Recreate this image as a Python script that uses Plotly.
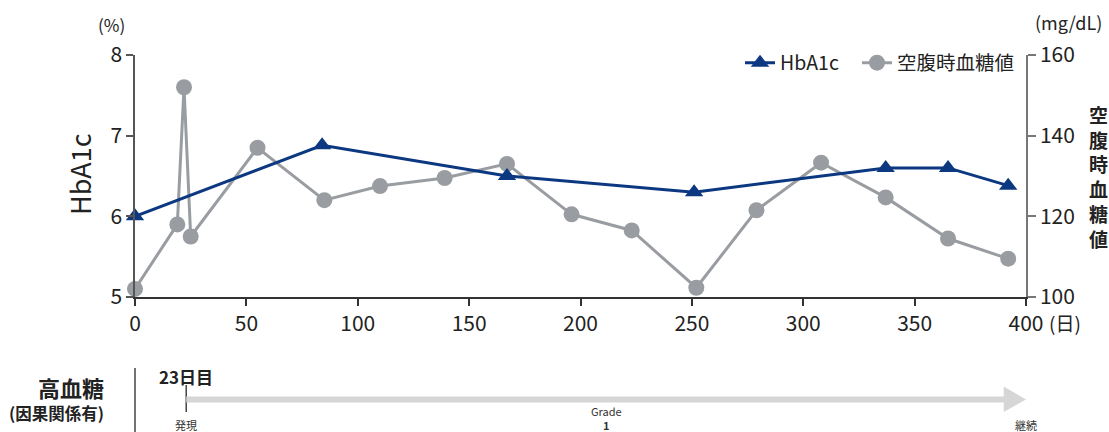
import plotly.graph_objects as go

# ---------------- data ----------------
hba1c_days = [0, 84, 167, 251, 337, 365, 392]
hba1c_vals = [6.0, 6.88, 6.5, 6.3, 6.6, 6.6, 6.38]

glu_days = [0, 19, 22, 25, 55, 85, 110, 139, 167, 196, 223, 252, 279, 308, 337, 365, 392]
glu_vals = [102, 118, 152, 115, 137, 124, 127.5, 129.5, 133, 120.5, 116.5, 102.3, 121.5, 133.3, 124.7, 114.5, 109.5]

x_ticks = [0, 50, 100, 150, 200, 250, 300, 350, 400]
left_ticks = [5, 6, 7, 8]
right_ticks = [100, 120, 140, 160]

onset_day = 23
event_end_day = 400
event_name = "高血糖"
event_note = "(因果関係有)"
grade_label = "Grade<br><b>1</b>"

# ---------------- styles ----------------
NAVY = "#0b3880"
GRAY = "#999da2"
FONT = "Noto Sans CJK JP"
W, H = 1109, 432
L, R, T, B = 135, 83, 55, 135
PW, PH = W - L - R, H - T - B


def px(xp):
    return (xp - L) / PW


def py(yp):
    return (H - B - yp) / PH


fig = go.Figure()
fig.add_trace(go.Scatter(
    x=hba1c_days, y=hba1c_vals, name="HbA1c\u00a0\u00a0\u00a0", yaxis="y2",
    mode="lines+markers", cliponaxis=False,
    line=dict(color=NAVY, width=3),
    marker=dict(symbol="triangle-up", size=16, color=NAVY),
))
fig.add_trace(go.Scatter(
    x=glu_days, y=glu_vals, name="空腹時血糖値", yaxis="y",
    mode="lines+markers", cliponaxis=False,
    line=dict(color=GRAY, width=3),
    marker=dict(symbol="circle", size=16, color=GRAY),
))

tickfont = dict(size=21, family=FONT, color="#222")
fig.update_layout(
    width=W, height=H,
    margin=dict(l=L, r=R, t=T, b=B, autoexpand=False),
    plot_bgcolor="white", paper_bgcolor="white",
    font=dict(family=FONT, color="#222", size=20),
    showlegend=True,
    legend=dict(orientation="h", x=px(1019), xanchor="right", y=py(63), yanchor="middle",
                font=dict(size=19.5, family=FONT, color="#222"), bgcolor="rgba(0,0,0,0)",
                itemwidth=30, traceorder="normal"),
    xaxis=dict(range=[0, 400], tickvals=x_ticks, showgrid=False, zeroline=False,
               showline=True, linecolor="#333", linewidth=1.5,
               ticks="outside", ticklen=7, tickcolor="#333", tickwidth=1.5, tickfont=tickfont),
    yaxis=dict(range=[100, 160], tickvals=right_ticks, side="right", showgrid=False, zeroline=False,
               showline=True, linecolor="#777", linewidth=1.5,
               ticks="outside", ticklen=8, tickcolor="#777", tickwidth=1.5, tickfont=tickfont),
    yaxis2=dict(range=[5, 8], tickvals=left_ticks, side="left", overlaying="y", showgrid=False,
                zeroline=False, showline=True, linecolor="#555", linewidth=1.5,
                ticks="outside", ticklen=7, tickcolor="#555", tickwidth=1.5, tickfont=tickfont),
)


def note(text, x, y, size, xref="paper", xanchor="center", color="#222", angle=0):
    return dict(text=text, x=x, y=y, xref=xref, yref="paper", xanchor=xanchor, yanchor="middle",
                showarrow=False, textangle=angle, font=dict(size=size, family=FONT, color=color))


ann = []
# unit labels
ann.append(note("(%)", px(111), py(24), 17))
ann.append(note("(mg/dL)", px(1068), py(22), 18))
ann.append(note("(日)", px(1047), py(322), 19, xanchor="left"))
# axis titles
ann.append(note("HbA1c", px(79), py(174), 27, angle=-90))
ann.append(note("<b>" + "<br>".join("空腹時血糖値") + "</b>", px(1098), py(176), 19))

# timeline labels
ann.append(note("<b>" + event_name + "</b>", px(106), py(387), 22, xanchor="right"))
ann.append(note("<b>" + event_note + "</b>", px(106), py(413), 16.5, xanchor="right"))
ann.append(note("<b>%d日目</b>" % onset_day, onset_day, py(376), 17, xref="x"))
ann.append(note("発現", onset_day, py(425), 11, xref="x", color="#333"))
ann.append(note(grade_label, (onset_day + event_end_day) / 2, py(418), 11, xref="x", color="#333"))
ann.append(note("継続", event_end_day, py(425), 11, xref="x", color="#333"))
fig.update_layout(annotations=ann)

# timeline shapes
shapes = []
shapes.append(dict(type="line", xref="paper", yref="paper", x0=0, x1=0, y0=py(368), y1=py(432),
                   line=dict(color="#444", width=1.5)))
shapes.append(dict(type="line", xref="x", yref="paper", x0=onset_day, x1=onset_day, y0=py(385), y1=py(412),
                   line=dict(color="#444", width=1.5)))
head_base = event_end_day - 10
yb, yt = py(402.5), py(396.5)
ht, hb = py(386.5), py(412)
ym = py(399.5)
path = "M {x0},{yb} L {x0},{yt} L {hx},{yt} L {hx},{ht} L {tx},{ym} L {hx},{hb} L {hx},{yb} Z".format(
    x0=onset_day, hx=head_base, tx=event_end_day, yb=yb, yt=yt, ht=ht, hb=hb, ym=ym)
shapes.append(dict(type="path", xref="x", yref="paper", path=path, fillcolor="#d6d6d6",
                   line=dict(width=0), layer="above"))
fig.update_layout(shapes=shapes)

fig.write_html("out.html", config={"displayModeBar": False},
               post_script="document.body.style.margin='0';document.body.style.overflow='hidden';")
